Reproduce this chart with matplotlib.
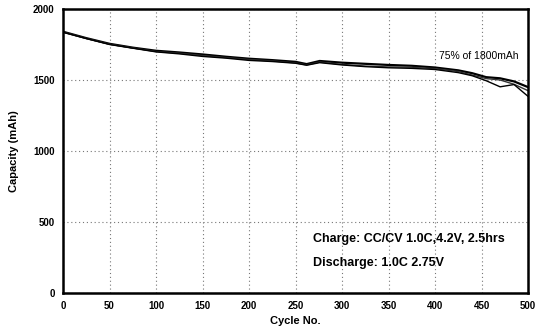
import matplotlib.pyplot as plt
import numpy as np

plt.rcParams['font.family'] = ['Liberation Sans', 'DejaVu Sans']

# ── data ────────────────────────────────────────────────────────────────────
cycles = [0, 25, 50, 75, 100, 125, 150, 175, 200, 225, 250, 262, 276, 300,
          325, 350, 375, 400, 425, 440, 455, 470, 485, 500]
cell_a = [1840, 1795, 1755, 1728, 1706, 1694, 1680, 1664, 1650, 1640, 1628,
          1612, 1634, 1622, 1614, 1606, 1600, 1588, 1568, 1548, 1520, 1512,
          1490, 1450]
cell_b = [1838, 1793, 1752, 1726, 1700, 1688, 1672, 1658, 1644, 1634, 1620,
          1606, 1626, 1610, 1598, 1592, 1590, 1580, 1560, 1535, 1510, 1500,
          1470, 1425]
cell_c = [1836, 1792, 1750, 1724, 1698, 1684, 1666, 1654, 1638, 1630, 1618,
          1604, 1622, 1606, 1594, 1586, 1582, 1574, 1552, 1530, 1495, 1452,
          1468, 1385]

x_ticks = [0, 50, 100, 150, 200, 250, 300, 350, 400, 450, 500]
y_ticks = [0, 500, 1000, 1500, 2000]

# ── plot ────────────────────────────────────────────────────────────────────
fig = plt.figure(figsize=(5.39, 3.36), dpi=100)
ax = fig.add_axes([63 / 539, 43 / 336, 465 / 539, 284 / 336])

ax.plot(cycles, cell_a, color="black", lw=1.6)
ax.plot(cycles, cell_b, color="#333333", lw=1.0)
ax.plot(cycles, cell_c, color="black", lw=1.0)

ax.set_xlim(0, 500)
ax.set_ylim(0, 2000)
ax.set_xticks(x_ticks)
ax.set_yticks(y_ticks)
ax.tick_params(direction="in", length=0, labelsize=7, pad=6)
for lab in ax.get_xticklabels() + ax.get_yticklabels():
    lab.set_fontweight("bold")

ax.grid(True, color="#777777", linestyle=(0, (1, 2.5)), linewidth=0.8)
for s in ax.spines.values():
    s.set_linewidth(1.8)

ax.set_xlabel("Cycle No.", fontsize=8, fontweight="bold", labelpad=3)
ax.set_ylabel("Capacity (mAh)", fontsize=8, fontweight="bold", labelpad=10)

ax.text(0.98, 0.835, "75% of 1800mAh", transform=ax.transAxes,
        ha="right", va="center", fontsize=7.5)
ax.text(0.538, 0.19, "Charge: CC/CV 1.0C,4.2V, 2.5hrs", transform=ax.transAxes,
        ha="left", va="center", fontsize=9, fontweight="bold")
ax.text(0.538, 0.105, "Discharge: 1.0C 2.75V", transform=ax.transAxes,
        ha="left", va="center", fontsize=9, fontweight="bold")

fig.savefig("out.png", dpi=100)
